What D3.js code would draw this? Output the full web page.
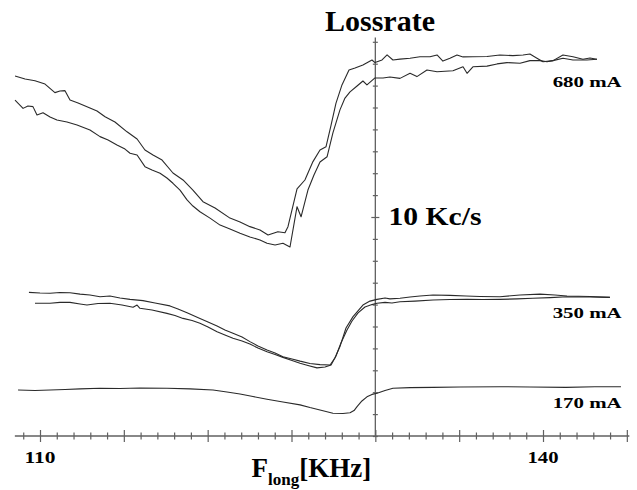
<!DOCTYPE html>
<html><head><meta charset="utf-8">
<script src="https://cdn.jsdelivr.net/npm/d3@7"></script>
<style>
html,body{margin:0;padding:0;background:#fff;}
svg{display:block;}
text{font-family:"Liberation Serif","Times New Roman",serif;font-weight:bold;fill:#000;}
</style></head>
<body>
<svg id="chart" width="637" height="490"></svg>
<script>
// ---- Data (x: F_long in KHz, y: loss rate in Kc/s) ----
const xTickLabels = [110, 140];
const seriesLabels = ["680 mA", "350 mA", "170 mA"];

const f680a = [108.51,109.11,109.70,110.30,110.89,111.19,111.49,111.79,112.27,112.98,113.40,113.88,114.47,115.19,115.79,116.26,116.74,117.28,117.93,118.53,119.12,119.72,120.44,121.33,121.93,122.52,123.12,123.60,124.19,124.61,124.79,125.33,125.80,126.28,126.70,127.06,127.36,127.65,128.01,128.43,128.79,129.26,129.80,129.98,130.40,130.70,131.05,131.47,132.07,132.66,133.26,133.68,134.03,134.45,134.87,135.23,135.82,136.66,137.43,138.21,138.81,139.22,139.64,140.00,140.60,141.19,141.79,142.38,142.80,143.22];
const r680a = [16.44,16.30,16.22,16.07,15.68,15.75,15.77,15.34,15.21,14.98,14.84,14.58,14.34,13.89,13.56,13.06,12.83,12.60,12.01,11.69,11.23,10.70,10.41,9.95,9.77,9.56,9.41,9.18,9.33,9.28,9.56,11.28,11.69,12.53,13.06,13.21,14.20,15.19,16.03,16.71,16.80,16.94,17.17,17.05,17.17,17.40,17.17,17.21,17.25,17.32,17.32,17.40,17.12,17.25,17.40,17.31,17.32,17.33,17.40,17.37,17.40,17.44,17.25,17.09,17.14,17.40,17.32,17.20,17.26,17.20];

const f680b = [108.51,108.99,109.28,109.58,109.82,110.18,110.60,111.01,111.61,112.21,112.98,113.58,114.06,114.59,115.07,115.37,115.79,116.26,116.68,117.16,117.57,117.93,118.35,118.77,119.12,119.54,120.14,120.74,121.33,121.93,122.52,123.12,123.54,124.02,124.49,124.91,125.33,125.57,125.98,126.34,126.70,127.12,127.47,127.89,128.19,128.49,128.91,129.26,129.50,129.98,130.46,130.87,131.47,132.07,132.48,133.08,133.68,134.63,135.23,135.47,135.82,136.66,137.26,137.85,138.63,139.22,139.82,140.24,140.60,141.19,141.79,142.62,143.22];
const r680b = [15.34,14.96,15.07,15.04,14.66,14.76,14.57,14.43,14.34,14.20,13.97,13.67,13.52,13.29,13.10,12.91,12.83,12.30,12.15,12.00,11.78,11.54,11.23,10.78,10.50,10.24,9.95,9.63,9.45,9.26,9.09,8.95,8.80,8.72,8.80,8.63,10.47,10.01,11.23,11.92,12.51,12.75,13.84,14.89,15.43,15.71,15.98,16.21,16.03,16.35,16.35,16.39,16.33,16.56,16.41,16.71,16.63,16.68,16.86,16.56,16.86,16.89,16.99,17.05,17.02,17.14,17.14,17.09,17.14,17.25,17.17,17.17,17.20];

const f350a = [109.34,110.00,110.60,111.19,111.79,112.39,112.98,113.58,114.17,114.77,115.37,116.14,116.86,117.75,118.23,118.77,119.54,120.02,120.56,121.03,121.51,122.05,122.52,123.00,123.54,124.02,124.49,125.03,125.51,126.10,126.70,127.30,127.59,127.89,128.25,128.67,129.26,129.68,130.10,130.58,130.87,131.47,132.07,132.66,133.44,134.45,135.41,136.24,137.43,138.63,139.82,140.71,141.43,142.80,143.99];
const r350a = [6.56,6.53,6.52,6.55,6.54,6.48,6.44,6.36,6.39,6.30,6.24,6.18,6.07,5.94,5.80,5.63,5.37,5.21,5.02,4.84,4.69,4.52,4.31,4.11,3.93,3.79,3.62,3.52,3.42,3.31,3.26,3.24,3.56,4.08,4.93,5.45,5.98,6.16,6.24,6.30,6.26,6.29,6.35,6.39,6.44,6.42,6.39,6.37,6.36,6.44,6.48,6.44,6.39,6.37,6.33];

const f350b = [109.70,110.60,111.19,111.79,112.39,112.80,113.46,114.17,114.89,115.55,115.79,115.96,116.68,117.57,118.05,118.53,119.07,119.54,120.02,120.56,121.03,121.51,122.05,122.52,123.00,123.54,124.02,124.49,125.03,125.51,125.98,126.52,127.00,127.36,127.65,127.95,128.31,128.61,128.97,129.38,129.80,130.10,130.58,130.99,131.47,132.36,133.44,134.45,135.47,136.42,137.43,138.45,139.40,140.42,141.43,142.80,143.99];
const r350b = [6.06,6.06,6.10,6.10,6.03,5.98,6.05,6.06,5.98,5.88,5.98,5.83,5.75,5.60,5.50,5.37,5.27,5.15,4.98,4.76,4.61,4.46,4.34,4.20,4.02,3.85,3.72,3.59,3.45,3.32,3.22,3.11,3.15,3.24,3.65,4.25,4.84,5.25,5.62,5.89,6.00,6.06,6.10,6.07,6.13,6.16,6.21,6.23,6.24,6.23,6.24,6.26,6.29,6.32,6.36,6.35,6.33];

const f170 = [108.69,109.70,110.60,111.49,112.39,113.58,114.77,115.96,117.57,118.95,120.32,121.15,121.93,122.70,123.54,124.49,125.51,126.10,126.70,127.47,128.07,128.49,128.73,128.91,129.20,129.50,129.80,130.10,130.58,131.05,132.07,133.44,135.05,137.43,139.22,141.37,143.10,144.65];
const r170 = [2.10,2.08,2.10,2.12,2.15,2.18,2.17,2.19,2.18,2.15,2.10,2.01,1.92,1.80,1.68,1.55,1.42,1.30,1.19,1.04,1.03,1.06,1.16,1.34,1.60,1.79,1.90,1.95,2.08,2.18,2.21,2.22,2.24,2.25,2.24,2.22,2.25,2.25];

// ---- Scales ----
const svg = d3.select("#chart");
const x = d3.scaleLinear().domain([110, 140]).range([40, 543]);
const y = d3.scaleLinear().domain([0, 10]).range([436, 217]);

const axisColor = "#606060";

// ---- X axis ----
const xTicks = d3.range(109, 146);
const gx = svg.append("g").attr("transform", `translate(0,${y(0)})`)
  .call(d3.axisBottom(x).tickValues(xTicks).tickFormat("").tickSizeOuter(0));
gx.select(".domain").remove();
gx.selectAll(".tick line")
  .attr("y1", d => d % 5 === 0 ? -6 : -3.5)
  .attr("y2", d => d % 5 === 0 ? 6 : 3.5)
  .attr("stroke", axisColor).attr("stroke-width", 1.2);
gx.append("line").attr("x1", x(108.5)).attr("x2", x(145.15)).attr("y1", 0).attr("y2", 0)
  .attr("stroke", axisColor).attr("stroke-width", 1.3);

// ---- Y axis (at 130 KHz) ----
const yTicks = d3.range(0, 19);
const gy = svg.append("g").attr("transform", `translate(${x(130)},0)`)
  .call(d3.axisLeft(y).tickValues(yTicks).tickFormat("").tickSizeOuter(0));
gy.select(".domain").remove();
gy.selectAll(".tick line")
  .attr("x1", d => d === 10 ? -4 : -2.5)
  .attr("x2", d => d === 10 ? 4 : 2.5)
  .attr("stroke", axisColor).attr("stroke-width", 1.2);
gy.append("line").attr("x1", 0).attr("x2", 0).attr("y1", y(0)).attr("y2", y(18.2))
  .attr("stroke", axisColor).attr("stroke-width", 1.3);

// ---- Curves ----
const line = d3.line().x(d => x(d[0])).y(d => y(d[1]));
const series = [[f680a, r680a], [f680b, r680b], [f350a, r350a], [f350b, r350b], [f170, r170]];
svg.append("g").selectAll("path").data(series).join("path")
  .attr("d", s => line(d3.zip(s[0], s[1])))
  .attr("fill", "none").attr("stroke", "#2a2a2a").attr("stroke-width", 1.1)
  .attr("stroke-linejoin", "round");

// ---- Text ----
// x tick labels
svg.selectAll(".xl").data(xTickLabels).join("text")
  .attr("x", d => x(d)).attr("y", 462.7).attr("text-anchor", "middle")
  .attr("font-size", 16).attr("textLength", 31).attr("lengthAdjust", "spacingAndGlyphs")
  .text(d => d);

// title
svg.append("text").attr("x", 325).attr("y", 31).attr("font-size", 29)
  .attr("textLength", 110).attr("lengthAdjust", "spacingAndGlyphs").text("Lossrate");

// scale label
svg.append("text").attr("x", 388.5).attr("y", 225).attr("font-size", 26)
  .attr("textLength", 93).attr("lengthAdjust", "spacingAndGlyphs").text("10 Kc/s");

// series labels
const labelY = [86.7, 318.3, 408.3];
svg.selectAll(".sl").data(seriesLabels).join("text")
  .attr("x", 552.7).attr("y", (d, i) => labelY[i]).attr("font-size", 15)
  .attr("textLength", 69).attr("lengthAdjust", "spacingAndGlyphs")
  .text(d => d);

// x axis title F_long[KHz]
const xt = svg.append("text").attr("x", 251.5).attr("y", 476.7).attr("font-size", 27);
xt.append("tspan").text("F");
xt.append("tspan").attr("font-size", 17).attr("dy", 8).text("long");
xt.append("tspan").attr("dy", -8).text("[KHz]");
</script>
</body></html>
